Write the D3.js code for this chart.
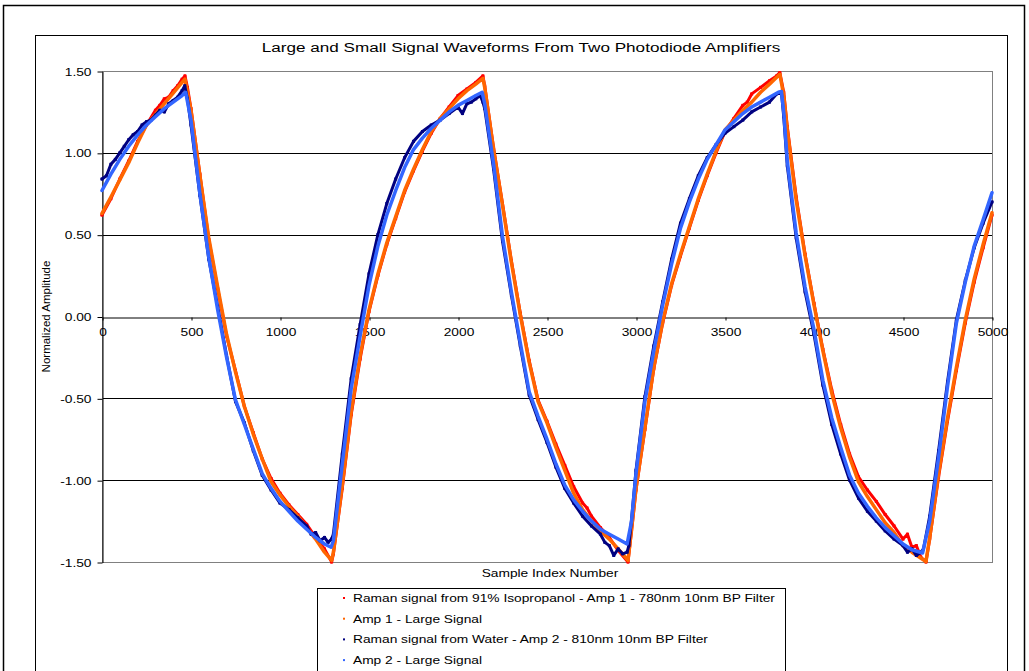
<!DOCTYPE html>
<html>
<head>
<meta charset="utf-8">
<script src="https://cdn.jsdelivr.net/npm/d3@7"></script>
<style>
  body { margin: 0; background: #fff; }
  svg text { font-family: "Liberation Sans", Arial, sans-serif; fill: #000; }
</style>
</head>
<body>
<div id="chart"></div>
<script>
// ---- data (sample index, normalized amplitude) ----
const sampleTicks = [0, 500, 1000, 1500, 2000, 2500, 3000, 3500, 4000, 4500, 5000];
const ampTicks = [-1.5, -1.0, -0.5, 0.0, 0.5, 1.0, 1.5];

const seriesNames = [
  "Raman signal from 91% Isopropanol - Amp 1 - 780nm 10nm BP Filter",
  "Amp 1 - Large Signal",
  "Raman signal from Water - Amp 2 - 810nm 10nm BP Filter",
  "Amp 2 - Large Signal"
];

const ramanIso = [
  [0,0.62],[50,0.72],[100,0.84],[150,0.95],[200,1.07],[250,1.17],[300,1.26],[325,1.29],[350,1.33],[375,1.34],
  [400,1.38],[425,1.41],[450,1.45],[466,1.47],[480,1.40],[500,1.27],[550,0.87],[600,0.47],[650,0.17],[700,-0.12],
  [750,-0.33],[800,-0.55],[850,-0.71],[900,-0.87],[950,-0.99],[1000,-1.08],[1050,-1.15],[1100,-1.21],[1150,-1.27],
  [1200,-1.35],[1250,-1.42],[1290,-1.50],[1300,-1.45],[1350,-1.05],[1400,-0.60],[1450,-0.26],[1500,0.03],[1550,0.25],
  [1600,0.44],[1650,0.60],[1700,0.76],[1750,0.89],[1800,1.01],[1850,1.12],[1900,1.21],[1950,1.28],[2000,1.35],
  [2050,1.39],[2100,1.43],[2140,1.47],[2150,1.41],[2200,1.03],[2250,0.69],[2300,0.34],[2350,0.02],[2400,-0.27],
  [2450,-0.51],[2500,-0.64],[2550,-0.78],[2600,-0.91],[2650,-1.04],[2700,-1.14],[2725,-1.17],[2750,-1.22],
  [2800,-1.29],[2850,-1.35],[2900,-1.43],[2955,-1.50],[2975,-1.31],[3000,-1.06],[3050,-0.69],[3100,-0.32],
  [3150,-0.04],[3200,0.19],[3250,0.37],[3300,0.54],[3350,0.71],[3400,0.86],[3450,1.00],[3500,1.13],[3550,1.21],
  [3600,1.29],[3625,1.31],[3650,1.36],[3700,1.40],[3750,1.44],[3790,1.47],[3808,1.49],[3830,1.37],[3850,1.16],
  [3900,0.73],[3950,0.38],[4000,0.08],[4050,-0.20],[4100,-0.45],[4150,-0.66],[4200,-0.84],[4250,-0.98],
  [4300,-1.06],[4350,-1.13],[4400,-1.21],[4450,-1.28],[4500,-1.36],[4525,-1.33],[4550,-1.41],[4575,-1.40],
  [4600,-1.47],[4629,-1.50],[4650,-1.36],[4700,-0.98],[4750,-0.64],[4800,-0.33],[4850,-0.04],[4900,0.21],
  [4950,0.42],[5000,0.62]
];

const amp1Large = [
  [0,0.63],[50,0.73],[100,0.835],[150,0.94],[200,1.06],[250,1.17],[300,1.235],[350,1.30],[400,1.365],[450,1.43],
  [466,1.45],[500,1.26],[550,0.86],[600,0.48],[650,0.18],[700,-0.11],[750,-0.34],[800,-0.55],[850,-0.72],
  [900,-0.87],[950,-1.01],[1000,-1.09],[1050,-1.16],[1100,-1.22],[1150,-1.29],[1200,-1.36],[1250,-1.44],
  [1290,-1.49],[1300,-1.44],[1350,-1.03],[1400,-0.58],[1450,-0.24],[1500,0.04],[1550,0.26],[1600,0.45],
  [1650,0.61],[1700,0.77],[1750,0.90],[1800,1.02],[1850,1.13],[1900,1.21],[1950,1.27],[2000,1.33],[2050,1.38],
  [2100,1.42],[2140,1.455],[2150,1.40],[2200,1.02],[2250,0.68],[2300,0.33],[2350,0.01],[2400,-0.28],[2450,-0.52],
  [2500,-0.65],[2550,-0.80],[2600,-0.94],[2650,-1.08],[2700,-1.18],[2750,-1.25],[2800,-1.31],[2850,-1.36],
  [2900,-1.42],[2955,-1.49],[2975,-1.30],[3000,-1.05],[3050,-0.68],[3100,-0.31],[3150,-0.03],[3200,0.20],
  [3250,0.38],[3300,0.55],[3350,0.72],[3400,0.87],[3450,1.01],[3500,1.14],[3550,1.20],[3600,1.26],[3650,1.31],
  [3700,1.37],[3750,1.42],[3808,1.48],[3830,1.35],[3850,1.14],[3900,0.71],[3950,0.37],[4000,0.07],[4050,-0.21],
  [4100,-0.47],[4150,-0.68],[4200,-0.86],[4250,-1.01],[4300,-1.10],[4350,-1.18],[4400,-1.26],[4450,-1.32],
  [4500,-1.40],[4550,-1.44],[4629,-1.497],[4650,-1.35],[4700,-0.96],[4750,-0.62],[4800,-0.31],[4850,-0.02],
  [4900,0.23],[4950,0.44],[5000,0.634]
];

const ramanWater = [
  [0,0.84],[25,0.86],[50,0.93],[75,0.96],[100,1.00],[125,1.04],[150,1.08],[175,1.11],[200,1.13],[225,1.17],
  [250,1.19],[275,1.20],[300,1.23],[325,1.26],[350,1.25],[375,1.30],[400,1.32],[425,1.34],[450,1.38],[465,1.41],
  [480,1.33],[500,1.17],[550,0.74],[600,0.35],[650,0.06],[700,-0.24],[750,-0.52],[800,-0.65],[850,-0.82],
  [900,-0.97],[950,-1.06],[1000,-1.14],[1050,-1.18],[1100,-1.23],[1150,-1.28],[1175,-1.33],[1200,-1.32],
  [1225,-1.37],[1250,-1.35],[1270,-1.38],[1290,-1.36],[1300,-1.33],[1350,-0.84],[1400,-0.38],[1450,-0.05],
  [1500,0.26],[1550,0.50],[1600,0.69],[1650,0.84],[1700,0.97],[1750,1.07],[1800,1.13],[1850,1.17],[1900,1.20],
  [1950,1.24],[2000,1.28],[2025,1.24],[2050,1.30],[2075,1.31],[2100,1.33],[2125,1.35],[2140,1.31],[2150,1.27],
  [2200,0.90],[2250,0.46],[2300,0.13],[2350,-0.18],[2400,-0.48],[2450,-0.63],[2500,-0.77],[2550,-0.92],
  [2600,-1.05],[2650,-1.14],[2700,-1.22],[2750,-1.28],[2800,-1.33],[2825,-1.38],[2850,-1.40],[2875,-1.46],
  [2900,-1.42],[2925,-1.45],[2950,-1.44],[2960,-1.40],[2975,-1.24],[3000,-0.94],[3050,-0.49],[3100,-0.18],
  [3150,0.09],[3200,0.35],[3250,0.57],[3300,0.72],[3350,0.86],[3400,0.97],[3450,1.05],[3500,1.12],[3550,1.16],
  [3600,1.20],[3650,1.25],[3700,1.28],[3750,1.31],[3790,1.36],[3817,1.37],[3830,1.22],[3850,0.92],[3900,0.48],
  [3950,0.15],[4000,-0.11],[4050,-0.42],[4100,-0.66],[4150,-0.84],[4200,-1.00],[4250,-1.11],[4300,-1.19],
  [4350,-1.25],[4400,-1.31],[4450,-1.36],[4500,-1.40],[4525,-1.44],[4550,-1.42],[4575,-1.46],[4600,-1.44],
  [4615,-1.42],[4650,-1.22],[4700,-0.82],[4750,-0.40],[4800,-0.02],[4850,0.22],[4900,0.42],[4950,0.57],[5000,0.70]
];

const amp2Large = [
  [0,0.77],[50,0.87],[100,0.96],[150,1.04],[200,1.11],[250,1.17],[300,1.22],[350,1.27],[400,1.31],[450,1.35],
  [470,1.37],[500,1.20],[550,0.75],[600,0.36],[650,0.04],[700,-0.25],[750,-0.51],[800,-0.66],[850,-0.81],
  [900,-0.96],[950,-1.05],[1000,-1.13],[1050,-1.19],[1100,-1.25],[1150,-1.30],[1200,-1.35],[1250,-1.39],
  [1287,-1.41],[1300,-1.37],[1350,-0.90],[1400,-0.44],[1450,-0.12],[1500,0.19],[1550,0.43],[1600,0.62],
  [1650,0.77],[1700,0.91],[1750,1.02],[1800,1.09],[1850,1.15],[1900,1.20],[1950,1.25],[2000,1.29],[2050,1.32],
  [2100,1.35],[2136,1.37],[2150,1.30],[2200,0.93],[2250,0.49],[2300,0.15],[2350,-0.16],[2400,-0.46],[2450,-0.61],
  [2500,-0.75],[2550,-0.90],[2600,-1.03],[2650,-1.12],[2700,-1.19],[2750,-1.25],[2800,-1.30],[2850,-1.33],
  [2900,-1.36],[2950,-1.39],[2975,-1.25],[3000,-0.96],[3050,-0.52],[3100,-0.21],[3150,0.07],[3200,0.32],
  [3250,0.54],[3300,0.70],[3350,0.84],[3400,0.96],[3450,1.05],[3500,1.14],[3550,1.19],[3600,1.24],[3650,1.28],
  [3700,1.31],[3750,1.34],[3800,1.37],[3817,1.375],[3830,1.25],[3850,0.95],[3900,0.51],[3950,0.18],[4000,-0.08],
  [4050,-0.39],[4100,-0.62],[4150,-0.80],[4200,-0.97],[4250,-1.08],[4300,-1.16],[4350,-1.23],[4400,-1.29],
  [4450,-1.34],[4500,-1.39],[4550,-1.425],[4610,-1.445],[4650,-1.25],[4700,-0.86],[4750,-0.43],[4800,-0.04],
  [4850,0.21],[4900,0.43],[4950,0.59],[5000,0.756]
];

const seriesData = [ramanIso, amp1Large, ramanWater, amp2Large];
const seriesColors = ["#ff0000", "#ff6600", "#000080", "#3366ff"];
const seriesNoisy = [true, false, true, false];

// ---- layout ----
const W = 1029, H = 671;
const plot = { left: 102, right: 992, top: 71, bottom: 562 };
const stretch = 1.25; // reference text is drawn horizontally wide

const svg = d3.select("#chart").append("svg")
  .attr("width", W)
  .attr("height", H);

// wide text helper: anchor point (x, y), stretched horizontally
function wideText(sel, x0, y0) {
  return sel.attr("x", 0).attr("y", 0)
    .attr("transform", `translate(${x0},${y0}) scale(${stretch},1)`);
}

// outer and inner frames
svg.append("rect")
  .attr("x", 3.5).attr("y", 5.5)
  .attr("width", 1021).attr("height", 700)
  .attr("fill", "#fff")
  .attr("stroke", "#000")
  .attr("stroke-width", 1.5);

svg.append("rect")
  .attr("x", 35.5).attr("y", 35.5)
  .attr("width", 972).attr("height", 700)
  .attr("fill", "#fff")
  .attr("stroke", "#000")
  .attr("stroke-width", 1);

// scales
const x = d3.scaleLinear().domain([0, 5000]).range([plot.left, plot.right]);
const y = d3.scaleLinear().domain([-1.5, 1.5]).range([plot.bottom, plot.top]);

// gridlines
svg.append("g")
  .selectAll("line")
  .data(ampTicks.filter(v => v !== 0 && Math.abs(v) !== 1.5))
  .join("line")
  .attr("x1", plot.left).attr("x2", plot.right)
  .attr("y1", d => Math.round(y(d)) + 0.5)
  .attr("y2", d => Math.round(y(d)) + 0.5)
  .attr("stroke", "#000")
  .attr("stroke-width", 1);

// plot area border (gray)
svg.append("rect")
  .attr("x", plot.left + 0.5).attr("y", Math.round(y(1.5)) + 0.5)
  .attr("width", plot.right - plot.left)
  .attr("height", Math.round(y(-1.5)) - Math.round(y(1.5)))
  .attr("fill", "none")
  .attr("stroke", "#808080")
  .attr("stroke-width", 1);

// y axis
const fmt2 = d3.format(".2f");
const yAxis = d3.axisLeft(y)
  .tickValues(ampTicks)
  .tickFormat(d => fmt2(d).replace("\u2212", "-"))
  .tickSize(5)
  .tickSizeOuter(0);

const yAxisG = svg.append("g")
  .attr("transform", `translate(${plot.left + 0.5},0.5)`)
  .call(yAxis);
yAxisG.select(".domain").attr("stroke", "#000");
yAxisG.selectAll(".tick text")
  .style("font-size", "11px")
  .each(function() { wideText(d3.select(this), -11, 0); });

// x axis along zero line
const xAxis = d3.axisBottom(x)
  .tickValues(sampleTicks)
  .tickFormat(d3.format("d"))
  .tickSize(3)
  .tickSizeOuter(0);

const xAxisG = svg.append("g")
  .attr("transform", `translate(0.5,${Math.round(y(0)) + 0.5})`)
  .call(xAxis);
xAxisG.select(".domain").attr("stroke", "#000");
xAxisG.selectAll(".tick text")
  .style("font-size", "11px")
  .each(function() { wideText(d3.select(this), 0, 11); });

// series
const line = d3.line()
  .x(d => x(d[0]))
  .y(d => y(d[1]));

const seriesG = svg.append("g");
seriesData.forEach((data, i) => {
  seriesG.append("path")
    .datum(data)
    .attr("d", line)
    .attr("fill", "none")
    .attr("stroke", seriesColors[i])
    .attr("stroke-width", seriesNoisy[i] ? 3 : 3.5)
    .attr("stroke-linejoin", "round")
    .attr("stroke-linecap", "round");

  if (seriesNoisy[i]) {
    seriesG.append("g")
      .selectAll("rect")
      .data(data)
      .join("rect")
      .attr("x", d => x(d[0]) - 1.5)
      .attr("y", d => y(d[1]) - 1.5)
      .attr("width", 3)
      .attr("height", 3)
      .attr("fill", seriesColors[i]);
  }
});

// title and axis titles
wideText(svg.append("text"), 521, 52)
  .attr("text-anchor", "middle")
  .style("font-size", "13.7px")
  .text("Large and Small Signal Waveforms From Two Photodiode Amplifiers");

svg.append("text")
  .attr("transform", `translate(50,${y(0)}) rotate(-90) scale(1.15,1)`)
  .attr("text-anchor", "middle")
  .style("font-size", "10px")
  .text("Normalized Amplitude");

wideText(svg.append("text"), 550, 577)
  .attr("text-anchor", "middle")
  .style("font-size", "11px")
  .text("Sample Index Number");

// legend
const legend = svg.append("g");
legend.append("rect")
  .attr("x", 317.5).attr("y", 588.5)
  .attr("width", 468).attr("height", 120)
  .attr("fill", "#fff")
  .attr("stroke", "#000")
  .attr("stroke-width", 1);

const legendItems = legend.selectAll("g.item")
  .data(seriesNames)
  .join("g")
  .attr("class", "item")
  .attr("transform", (d, i) => `translate(0,${598 + i * 20.7})`);

legendItems.append("rect")
  .attr("x", 343).attr("y", -1)
  .attr("width", 2).attr("height", 2)
  .attr("fill", (d, i) => seriesColors[i]);

legendItems.append("text")
  .style("font-size", "11px")
  .text(d => d)
  .each(function() { wideText(d3.select(this), 353, 4); });
</script>
</body>
</html>
